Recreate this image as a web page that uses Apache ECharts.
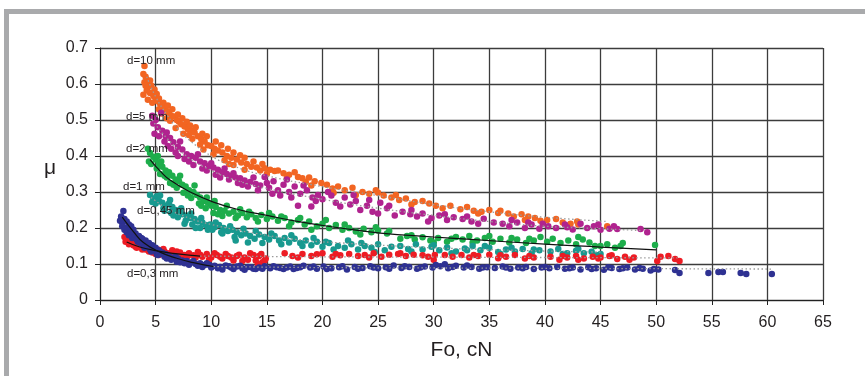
<!DOCTYPE html>
<html><head><meta charset="utf-8">
<script src="https://cdn.jsdelivr.net/npm/echarts@6/dist/echarts.min.js"></script>
<style>html,body{margin:0;padding:0;background:#fff}#c{width:865px;height:376px}</style>
</head><body><div id="c"></div>
<script>
// ---- Data ----
const xTicks = [0,5,10,15,20,25,30,35,40,45,50,55,60,65];
const yTicks = [0,0.1,0.2,0.3,0.4,0.5,0.6,0.7];
const seriesNames = ['d=10 mm','d=5 mm','d=2 mm','d=1 mm','d=0,45 mm','d=0,3 mm'];

const d10Data = [[4.0,0.650],[3.9,0.628],[4.1,0.620],[4.2,0.612],[4.0,0.605],[4.4,0.600],[4.6,0.596],[4.3,0.590],[4.2,0.582],[3.9,0.570],[4.5,0.575],[4.8,0.567],[5.0,0.560],[4.3,0.556],[4.7,0.548],[5.2,0.552],
[5.4,0.545],[5.6,0.538],[5.3,0.530],[5.8,0.532],[6.0,0.525],[5.5,0.518],[6.2,0.520],[6.4,0.512],[6.7,0.510],[6.0,0.505],[6.9,0.500],
[7.1,0.495],[7.3,0.488],[6.8,0.478],[7.6,0.482],[7.9,0.475],[8.2,0.470],[7.5,0.462],[8.5,0.465],[8.8,0.455],[8.3,0.448],[9.1,0.447],[9.4,0.440],[9.0,0.432],[9.7,0.430],[10.0,0.428],
[10.3,0.420],[10.6,0.415],[10.2,0.405],[11.0,0.410],[11.4,0.400],[11.8,0.395],[11.2,0.388],[12.3,0.390],[12.7,0.382],[12.0,0.375],[13.2,0.378],[13.6,0.370],[13.0,0.362],[14.1,0.368],[14.4,0.360],
[14.8,0.366],[15.3,0.362],[15.7,0.358],[16.5,0.352],[17.0,0.348],[17.8,0.342],[18.2,0.338],[18.8,0.340],[19.3,0.330],[19.9,0.325],
[20.9,0.310],[21.4,0.315],[22.0,0.305],[22.7,0.312],[23.6,0.300],[24.2,0.295],[24.8,0.305],[25.5,0.290],[26.2,0.285],[26.9,0.278],[27.5,0.282],[28.3,0.272],[29.0,0.275],
[29.6,0.268],[30.2,0.262],[30.8,0.255],[32.4,0.252],[33.0,0.258],[33.6,0.248],[34.3,0.245],[35.0,0.250],[35.8,0.242],[36.7,0.240],[37.9,0.238],[38.5,0.232],[39.1,0.228],[38.2,0.222],[39.6,0.220],[41.0,0.225],[41.6,0.215],[42.3,0.212],[42.9,0.218],[45.6,0.205],
[4.1,0.595],[4.5,0.610],[4.9,0.585],[5.1,0.572],[5.3,0.560],[5.7,0.548],[6.1,0.540],[6.5,0.530],[6.3,0.498],[7.0,0.515],[7.4,0.505],[7.8,0.495],[8.1,0.485],[8.6,0.480],[8.0,0.458],[9.2,0.462],[9.6,0.455],[9.3,0.418],[10.4,0.440],[10.9,0.430],[11.5,0.420],[12.0,0.410],[12.6,0.402],[11.6,0.378],[13.0,0.395],[13.8,0.385],[14.6,0.378],[15.0,0.350],[16.0,0.360],[16.8,0.338],[17.5,0.355],[18.5,0.328],[19.0,0.318],[20.4,0.320],[21.0,0.298],[23.0,0.292],[25.0,0.298],[26.6,0.292],[28.0,0.265],[31.5,0.262],[34.0,0.240],[36.0,0.248],[37.2,0.232],[40.2,0.222],[43.0,0.210]];

const d5Data = [[4.7,0.512],[5.5,0.520],[4.8,0.490],[5.2,0.480],[5.6,0.470],[4.9,0.462],[5.9,0.455],[6.3,0.450],[5.8,0.440],[6.6,0.438],[6.1,0.428],[7.0,0.425],[7.4,0.418],[6.8,0.410],[7.8,0.405],[8.2,0.400],[7.6,0.392],[8.6,0.395],[9.0,0.385],[8.4,0.375],[9.4,0.380],[9.8,0.372],[10.2,0.368],[9.6,0.360],[10.6,0.362],[11.0,0.355],[10.4,0.348],[11.4,0.350],[11.8,0.345],[12.2,0.340],[11.6,0.335],[12.6,0.338],[13.0,0.332],[12.4,0.325],[13.5,0.328],[14.0,0.322],[13.3,0.315],[14.4,0.318],[14.8,0.342],[15.2,0.312],[15.6,0.330],[16.0,0.305],[16.5,0.320],[17.0,0.300],[15.5,0.295],[17.5,0.315],[18.0,0.295],[18.6,0.305],[19.1,0.285],[17.8,0.262],[19.0,0.260],[19.6,0.292],[20.0,0.280],[20.5,0.300],[21.2,0.270],[22.0,0.285],[22.5,0.265],[23.0,0.275],[23.4,0.250],[24.0,0.262],[24.5,0.245],[25.2,0.270],[25.8,0.255],[26.5,0.235],[27.2,0.245],[27.9,0.238],[28.5,0.232],[29.0,0.240],[29.8,0.228],[30.5,0.235],[31.2,0.222],[31.8,0.230],[32.6,0.225],[33.4,0.218],[34.5,0.226],[35.4,0.215],[36.2,0.212],[36.8,0.205],[37.5,0.215],[38.2,0.200],[38.8,0.210],[39.5,0.198],[40.3,0.205],[41.0,0.200],[41.8,0.210],[42.5,0.196],[43.2,0.212],[43.8,0.200],[44.4,0.205],[45.0,0.195],[45.8,0.198],[46.5,0.197],[48.6,0.197],[49.2,0.188],
[5.0,0.500],[5.3,0.455],[6.0,0.465],[6.4,0.420],[7.2,0.440],[7.0,0.400],[8.0,0.385],[8.8,0.405],[9.2,0.365],[10.0,0.380],[10.8,0.340],[11.2,0.365],[12.0,0.352],[12.8,0.320],[13.8,0.340],[14.2,0.305],[15.0,0.325],[16.2,0.290],[16.8,0.335],[17.2,0.285],[18.3,0.318],[19.4,0.275],[20.8,0.290],[21.6,0.260],[22.8,0.292],[24.2,0.278],[25.0,0.240],[26.0,0.262],[28.0,0.250],[29.5,0.218],[31.0,0.238],[33.0,0.232],[34.0,0.212],[37.0,0.222],[38.5,0.215],[39.8,0.212],[42.0,0.202],[44.8,0.210],[46.2,0.205]];

const d2Data = [[4.3,0.420],[4.5,0.408],[4.8,0.398],[4.4,0.385],[5.0,0.390],[5.3,0.378],[5.1,0.365],[5.6,0.370],[5.9,0.360],[5.4,0.350],[6.2,0.355],[6.0,0.340],[6.5,0.345],[6.8,0.335],[6.3,0.325],[7.1,0.330],[7.4,0.320],[6.9,0.312],[7.7,0.315],[8.0,0.305],[7.5,0.298],[8.4,0.300],[8.7,0.292],[8.2,0.283],[9.0,0.285],[9.3,0.275],[8.9,0.268],[9.7,0.270],[10.0,0.262],[9.5,0.255],[10.4,0.258],[10.8,0.250],[10.2,0.242],[11.2,0.248],[11.6,0.240],[11.0,0.233],[12.0,0.245],[12.4,0.235],[12.8,0.242],[13.2,0.230],[13.6,0.238],[14.0,0.228],[14.5,0.236],[15.0,0.225],[15.5,0.232],[16.0,0.220],[16.6,0.228],[17.2,0.215],[17.8,0.222],[18.4,0.210],[18.8,0.218],[19.5,0.205],[20.0,0.212],[20.6,0.200],[21.2,0.208],[21.8,0.195],[22.4,0.200],[23.0,0.190],[23.7,0.198],[24.4,0.188],[25.0,0.193],[25.8,0.185],[27.0,0.170],[27.6,0.178],[28.3,0.168],[29.0,0.174],[29.7,0.165],[30.4,0.172],[31.2,0.162],[32.0,0.175],[32.6,0.168],[33.2,0.178],[33.9,0.165],[34.6,0.172],[35.3,0.162],[36.0,0.170],[36.8,0.160],[37.5,0.168],[38.3,0.158],[39.0,0.165],[39.6,0.175],[40.7,0.170],[41.4,0.158],[42.1,0.165],[42.8,0.155],[43.4,0.168],[44.0,0.160],[45.0,0.150],[45.6,0.155],[46.3,0.145],[47.0,0.158],[49.9,0.153],
[4.6,0.378],[5.2,0.400],[5.5,0.385],[5.8,0.345],[6.6,0.320],[7.2,0.345],[7.9,0.290],[8.5,0.318],[9.1,0.262],[9.6,0.285],[10.3,0.275],[10.6,0.238],[11.4,0.262],[12.2,0.228],[12.6,0.252],[13.4,0.245],[14.2,0.218],[15.2,0.242],[16.3,0.232],[17.0,0.205],[18.0,0.228],[19.0,0.195],[20.3,0.222],[22.0,0.210],[23.4,0.182],[24.8,0.202],[26.0,0.192],[28.0,0.180],[30.0,0.160],[31.6,0.170],[33.5,0.160],[35.0,0.178],[37.0,0.172],[38.6,0.170],[40.2,0.162],[43.0,0.175],[44.5,0.150],[46.8,0.150]];

const d1Data = [[4.5,0.292],[4.8,0.282],[5.1,0.288],[5.3,0.275],[5.0,0.268],[5.6,0.270],[5.9,0.262],[6.2,0.268],[5.7,0.255],[6.5,0.258],[6.8,0.250],[6.4,0.242],[7.1,0.245],[7.4,0.238],[7.0,0.230],[7.8,0.235],[8.1,0.228],[7.7,0.220],[8.5,0.225],[8.8,0.218],[8.3,0.210],[9.2,0.215],[9.5,0.208],[9.0,0.200],[9.9,0.210],[10.3,0.202],[10.7,0.208],[10.1,0.195],[11.1,0.200],[11.5,0.192],[11.0,0.185],[11.9,0.195],[12.3,0.188],[12.7,0.180],[12.1,0.175],[13.1,0.185],[13.5,0.178],[13.9,0.170],[14.3,0.182],[14.8,0.175],[15.2,0.168],[15.7,0.178],[16.1,0.165],[16.6,0.172],[17.0,0.160],[17.5,0.170],[18.0,0.158],[18.5,0.165],[19.0,0.152],[19.5,0.162],[20.0,0.148],[20.6,0.158],[21.4,0.150],[22.0,0.145],[22.6,0.155],[23.2,0.140],[23.8,0.150],[24.4,0.145],[25.0,0.155],[25.6,0.138],[27.0,0.150],[27.7,0.142],[28.4,0.155],[29.0,0.140],[29.8,0.148],[30.5,0.138],[31.2,0.146],[32.0,0.135],[32.8,0.143],[33.5,0.150],[34.2,0.138],[35.0,0.145],[35.8,0.133],[36.5,0.140],[37.3,0.135],[38.0,0.142],[38.8,0.130],[39.5,0.138],[40.5,0.135],[41.2,0.142],[42.0,0.130],[42.8,0.137],[43.5,0.130],[44.2,0.134],[45.0,0.128],
[4.7,0.272],[5.4,0.290],[5.8,0.248],[6.3,0.278],[6.6,0.235],[7.3,0.255],[7.6,0.212],[8.2,0.240],[8.6,0.200],[9.1,0.228],[9.7,0.195],[10.4,0.215],[10.9,0.188],[11.7,0.205],[12.2,0.165],[12.9,0.198],[13.3,0.160],[14.0,0.192],[14.6,0.158],[15.4,0.185],[16.3,0.155],[17.2,0.180],[18.2,0.150],[19.2,0.172],[20.3,0.162],[21.0,0.140],[22.3,0.165],[23.5,0.158],[24.7,0.133],[26.2,0.148],[28.0,0.135],[30.0,0.152],[31.6,0.130],[33.0,0.138],[34.6,0.150],[36.0,0.128],[37.0,0.145],[39.0,0.140],[41.6,0.128],[43.0,0.142],[44.6,0.125]];

const d045Data = [[2.2,0.175],[2.5,0.170],[2.3,0.162],[2.8,0.165],[3.1,0.160],[2.6,0.155],[3.4,0.158],[3.7,0.150],[3.2,0.148],[4.0,0.152],[4.3,0.145],[3.8,0.140],[4.6,0.142],[4.9,0.138],[4.4,0.135],[5.2,0.140],[5.5,0.133],[5.0,0.128],[5.8,0.135],[6.1,0.130],[6.5,0.138],[6.8,0.128],[7.2,0.132],[7.6,0.125],[8.0,0.130],[8.4,0.124],[8.8,0.133],[9.2,0.120],[9.6,0.128],[10.0,0.118],[10.5,0.125],[11.0,0.115],[11.5,0.122],[12.0,0.110],[12.5,0.126],[13.0,0.118],[13.5,0.130],[14.0,0.110],[14.3,0.122],[14.6,0.105],[14.9,0.115],[16.6,0.130],[17.3,0.122],[18.2,0.128],[19.0,0.122],[20.0,0.130],[20.9,0.120],[21.6,0.124],[22.4,0.128],[23.2,0.122],[23.8,0.125],[24.6,0.130],[25.3,0.120],[26.0,0.126],[26.8,0.128],[27.5,0.122],[28.2,0.126],[29.0,0.124],[30.0,0.112],[30.1,0.125],[31.7,0.120],[32.5,0.125],[33.2,0.118],[34.0,0.122],[35.0,0.126],[35.8,0.116],[36.5,0.120],[37.3,0.125],[38.2,0.115],[39.0,0.118],[40.5,0.120],[41.3,0.112],[42.0,0.118],[42.8,0.122],[43.5,0.115],[44.3,0.120],[45.0,0.118],[45.8,0.122],[46.5,0.114],[47.2,0.120],[48.0,0.118],[50.1,0.108],[50.4,0.120],[51.1,0.122],[51.7,0.114],[52.1,0.108],
[2.4,0.168],[2.7,0.160],[3.0,0.152],[3.3,0.145],[3.6,0.155],[4.1,0.140],[4.7,0.132],[5.3,0.125],[5.7,0.142],[6.3,0.124],[6.9,0.135],[7.4,0.120],[7.9,0.122],[8.6,0.118],[9.0,0.126],[9.8,0.112],[10.3,0.130],[10.8,0.120],[11.3,0.128],[11.8,0.118],[12.3,0.122],[12.8,0.108],[13.3,0.112],[13.8,0.125],[14.2,0.100],[14.5,0.128],[14.8,0.110],[17.8,0.118],[19.5,0.127],[21.2,0.128],[24.2,0.118],[27.0,0.130],[29.5,0.120],[31.0,0.125],[33.6,0.125],[36.0,0.124],[38.6,0.122],[41.6,0.122],[43.0,0.112],[44.8,0.115],[46.0,0.124],[47.6,0.112]];

const d03Data = [[2.1,0.247],[1.9,0.232],[2.2,0.225],[2.0,0.215],[2.4,0.218],[2.6,0.210],[2.3,0.200],[2.8,0.205],[2.5,0.192],[3.0,0.195],[2.7,0.182],[3.2,0.185],[3.5,0.178],[2.9,0.172],[3.8,0.170],[3.4,0.162],[4.1,0.165],[4.4,0.158],[3.9,0.150],[4.7,0.152],[5.0,0.145],[4.5,0.140],[5.3,0.138],[5.6,0.132],[5.1,0.128],[5.9,0.128],[6.2,0.122],[6.6,0.118],[6.0,0.115],[7.0,0.115],[7.4,0.110],[6.9,0.106],[7.8,0.108],[8.2,0.104],[8.6,0.100],[9.0,0.102],[9.4,0.097],[9.8,0.098],[10.3,0.095],[10.8,0.092],[11.3,0.096],[11.8,0.090],[12.3,0.093],[12.8,0.088],[13.3,0.092],[13.8,0.087],[14.3,0.090],[14.8,0.094],[15.3,0.088],[15.9,0.091],[16.5,0.086],[17.1,0.093],[17.7,0.089],[18.3,0.095],[18.9,0.090],[19.5,0.087],[20.1,0.093],[20.8,0.088],[21.5,0.091],[22.2,0.085],[22.9,0.092],[23.6,0.089],[24.3,0.094],[25.0,0.088],[25.7,0.091],[26.4,0.096],[27.1,0.089],[27.8,0.092],[28.5,0.087],[29.2,0.093],[29.9,0.090],[30.6,0.094],[31.3,0.088],[32.0,0.095],[32.7,0.090],[33.4,0.092],[34.1,0.087],[34.8,0.091],[35.5,0.089],[36.2,0.093],[36.9,0.087],[37.6,0.090],[38.3,0.092],[39.0,0.086],[39.7,0.090],[40.4,0.088],[41.1,0.092],[41.8,0.087],[42.5,0.090],[43.2,0.085],[43.9,0.091],[44.6,0.088],[45.3,0.084],[46.0,0.089],[46.7,0.086],[47.4,0.090],[48.1,0.085],[48.8,0.087],[49.5,0.082],[50.2,0.085],[51.7,0.083],[52.1,0.075],[54.7,0.075],[55.6,0.078],[56.0,0.078],[57.6,0.075],[58.1,0.072],[60.4,0.072],
[1.8,0.220],[2.0,0.205],[2.2,0.195],[2.4,0.188],[2.6,0.180],[2.8,0.190],[3.1,0.175],[3.3,0.168],[3.6,0.158],[3.7,0.172],[4.0,0.145],[4.3,0.150],[4.6,0.135],[4.9,0.140],[5.2,0.125],[5.5,0.128],[5.8,0.120],[6.4,0.112],[6.8,0.120],[7.2,0.105],[7.6,0.102],[8.0,0.098],[8.4,0.108],[8.8,0.095],[9.2,0.092],[9.6,0.102],[10.0,0.090],[10.6,0.088],[11.0,0.085],[11.6,0.094],[12.0,0.086],[12.6,0.095],[13.0,0.084],[13.6,0.091],[14.0,0.086],[14.6,0.087],[15.6,0.094],[16.2,0.089],[16.8,0.090],[17.4,0.086],[18.0,0.091],[19.2,0.093],[20.4,0.086],[21.8,0.094],[23.2,0.087],[24.6,0.090],[26.0,0.087],[27.4,0.094],[28.8,0.090],[30.2,0.097],[31.0,0.099],[31.7,0.092],[33.0,0.096],[34.4,0.090],[36.5,0.090],[38.0,0.088],[40.0,0.092],[42.2,0.088],[44.2,0.086],[45.7,0.091],[47.0,0.088],[48.5,0.089],[49.8,0.086]];

// trend lines
const trendD10 = [[4.2,0.62],[5,0.565],[6,0.515],[7,0.475],[8,0.445],[10,0.40],[12,0.372],[15,0.345],[20,0.315],[25,0.29],[30,0.265],[35,0.245],[40,0.23],[45.6,0.218]];
const trendD5 = [[4.7,0.50],[6,0.45],[8,0.395],[10,0.36],[12,0.335],[15,0.31],[20,0.28],[25,0.255],[30,0.235],[35,0.218],[40,0.205],[45,0.198],[48.6,0.193]];
const trendD2 = [[4.5,0.39],[5.5,0.355],[6.3,0.333],[8.1,0.30],[10.2,0.272],[12.6,0.25],[15,0.235],[18,0.217],[21.6,0.2],[25.2,0.186],[30,0.175],[33,0.169],[40,0.155],[45,0.147],[50,0.139]];
const trendD1 = [[4.6,0.285],[6,0.255],[8,0.228],[10,0.21],[14,0.185],[18,0.167],[22,0.158],[26,0.151],[30,0.145],[35,0.14],[40,0.136],[45,0.133]];
const trendD045Solid = [[2.4,0.161],[3.5,0.148],[5,0.137],[7,0.128],[9,0.122]];
const trendD045Dot = [[9,0.122],[20,0.12],[30,0.119],[40,0.118],[52,0.117]];
const trendD03Solid = [[2.0,0.23],[3.0,0.19],[3.9,0.16],[5.4,0.133],[6.9,0.116],[8.5,0.103],[10.2,0.093]];
const trendD03Dot = [[10.2,0.093],[20,0.09],[30,0.089],[40,0.088],[50,0.087],[60.4,0.086]];

// ---- Chart ----
const FONT = '"Liberation Sans", Arial, sans-serif';
const colors = ['#f26522','#b0238f','#1dad4b','#18998f','#ed1c24','#2e3192'];
const pointSets = [d10Data,d5Data,d2Data,d1Data,d045Data,d03Data];

const scatterSeries = pointSets.map((d,i)=>({
  type:'scatter', name:seriesNames[i], data:d, symbolSize:6.5,
  itemStyle:{color:colors[i], opacity:1}, z:2, silent:true
}));
function trend(d, solid){
  return {type:'line', data:d, smooth:true, symbol:'none', silent:true, z:3,
    lineStyle: solid ? {color:'#111', width:1.2, type:'solid'} : {color:'#9a9a9a', width:1.3, type:[1.5,2.5]}};
}
const trendSeries = [
  trend(trendD10,false), trend(trendD5,false), trend(trendD1,false),
  trend(trendD045Dot,false), trend(trendD03Dot,false),
  trend(trendD2,true), trend(trendD045Solid,true), trend(trendD03Solid,true)
];

const labelPos = [[127,55],[126,111],[126,143],[123,181],[137,205],[127,268]];
const graphics = [
  {type:'rect', shape:{x:6.5,y:11.5,width:1000,height:1000}, style:{fill:'none', stroke:'#a9aaac', lineWidth:5}, z:-10, silent:true},
  {type:'text', left:44, top:158, style:{text:'μ', font:'21px '+FONT, fill:'#231f20'}, z:10}
].concat(seriesNames.map((n,i)=>({type:'text', left:labelPos[i][0], top:labelPos[i][1],
  style:{text:n, font:'11.5px '+FONT, fill:'#231f20'}, z:10})));

const chart = echarts.init(document.getElementById('c'), null, {renderer:'canvas'});
chart.setOption({
  backgroundColor:'#fff',
  animation:false,
  grid:{left:100, right:42, top:48, bottom:76},
  xAxis:{type:'value', min:xTicks[0], max:xTicks[xTicks.length-1], interval:5,
    name:'Fo, cN', nameLocation:'middle', nameGap:40,
    nameTextStyle:{fontFamily:FONT, fontSize:21, color:'#231f20'},
    axisLine:{show:true, onZero:false, lineStyle:{color:'#222', width:1}},
    axisTick:{show:true, length:5, lineStyle:{color:'#222'}},
    axisLabel:{fontFamily:FONT, fontSize:16, color:'#231f20', margin:15},
    splitLine:{show:true, lineStyle:{color:'#3c3c3c', width:1.3}}},
  yAxis:{type:'value', min:yTicks[0], max:yTicks[yTicks.length-1], interval:0.1,
    axisLine:{show:true, onZero:false, lineStyle:{color:'#222', width:1}},
    axisTick:{show:true, length:5, lineStyle:{color:'#222'}},
    axisLabel:{fontFamily:FONT, fontSize:16, color:'#231f20', margin:12,
      formatter:v=>String(Math.round(v*10)/10)},
    splitLine:{show:true, lineStyle:{color:'#3c3c3c', width:1.3}}},
  graphic:graphics,
  series: scatterSeries.concat(trendSeries)
});
</script></body></html>
